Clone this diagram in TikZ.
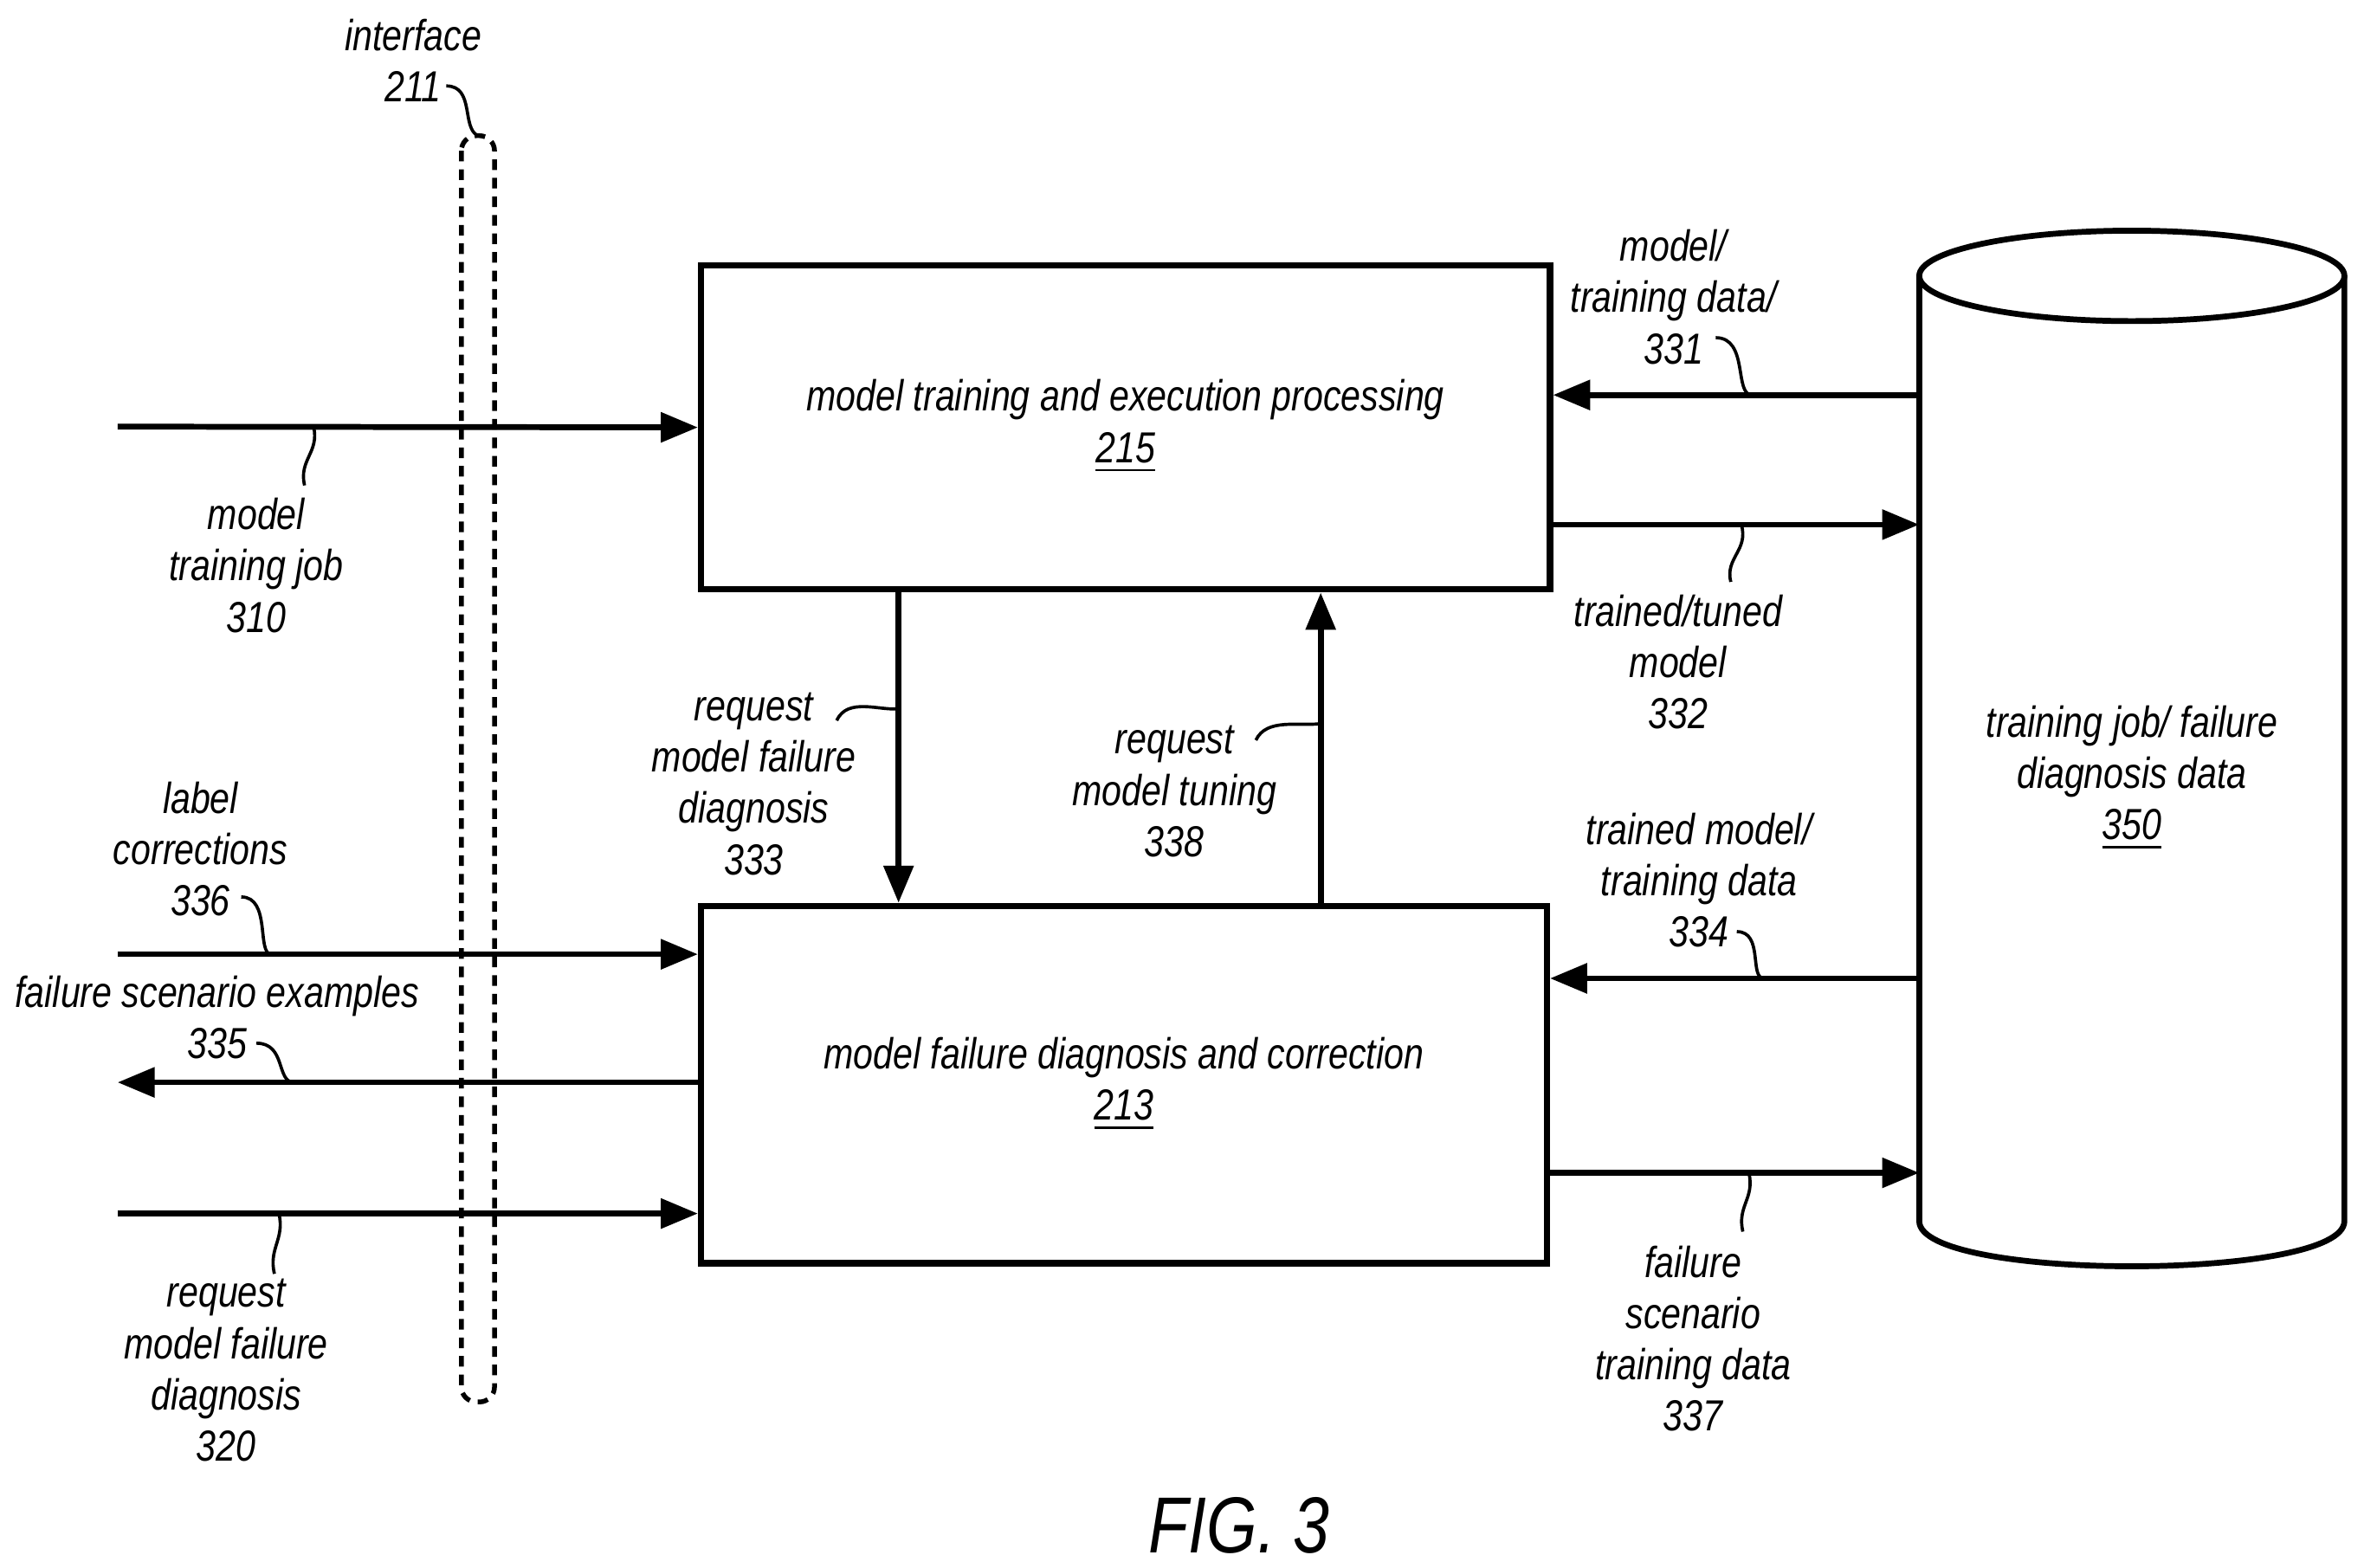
\documentclass[tikz,border=0pt]{standalone}
\usepackage{fontspec}
\setmainfont{Liberation Sans}[FakeStretch=0.82]
\usetikzlibrary{arrows.meta}
\begin{document}
\begin{tikzpicture}[x=0.1mm,y=-0.1mm,
  box/.style={draw,line width=1.2pt,inner sep=0pt},
  lbl/.style={font=\fontsize{8.2}{9.67}\selectfont\itshape,align=center,inner sep=0pt},
  arr/.style={line width=1.1pt,-{Triangle[length=7pt,width=5.5pt]}},
  lead/.style={line width=0.6pt}]
\useasboundingbox (0,0) rectangle (1568,1040);
\node[box,minimum width=563*0.1mm,minimum height=215*0.1mm] (b215) at (746.5,283.5) {};
\node[lbl] (t215) at (746.5,283) {model training and execution processing\\\underline{215}};
\node[box,minimum width=561*0.1mm,minimum height=237*0.1mm] (b213) at (745.5,719.5) {};
\node[lbl] (t213) at (745.5,719) {model failure diagnosis and correction\\\underline{213}};
% cylinder
\draw[line width=1.1pt] (1414,183) ellipse [x radius=141,y radius=30];
\draw[line width=1.1pt] (1273,183) -- (1273,810) .. controls (1273,850) and (1555,850) .. (1555,810) -- (1555,183);
\node[lbl] (t350) at (1414,516) {training job/ failure\\diagnosis data\\\underline{350}};
% interface
\draw[dash pattern=on 2pt off 1.5pt,line width=0.9pt,rounded corners=10*0.1mm] (306,90) rectangle (328,930);
\node[lbl] (t211) at (274,40) {interface\\211};
\coordinate (i1) at (296,57); \coordinate (i2) at (317,90);
\draw[lead] (i1) .. controls (315,57) and (306,85) .. (i2);
% left arrows
\coordinate (s310) at (78,283);
\draw[arr] (s310) -- (b215.west);
\node[lbl] (t310) at (170,375) {model\\training job\\310};
\draw[lead] (208,283) .. controls (212,300) and (198,305) .. (202,322);
\coordinate (s336) at (78,633);
\draw[arr] (s336) -- (b213.west |- s336);
\node[lbl] (t336) at (133,563) {label\\corrections\\336};
\draw[lead] (160,595) .. controls (180,595) and (170,633) .. (180,633);
\coordinate (e335) at (78,718);
\draw[arr] (b213.west |- e335) -- (e335);
\node[lbl] (t335) at (144,675) {failure scenario examples\\335};
\draw[lead] (170,692) .. controls (190,692) and (183,718) .. (195,718);
\coordinate (s320) at (78,805);
\draw[arr] (s320) -- (b213.west |- s320);
\node[lbl] (t320) at (150,909) {request\\model failure\\diagnosis\\320};
\draw[lead] (185,805) .. controls (189,822) and (178,828) .. (182,845);
% vertical arrows
\coordinate (v1) at (596,391); \coordinate (v2) at (876,601);
\draw[arr] (v1) -- (v1 |- b213.north);
\draw[arr] (v2) -- (v2 |- b215.south);
\node[lbl] (t333) at (500,520) {request\\model failure\\diagnosis\\333};
\draw[lead] (555,478) .. controls (562,462) and (585,472) .. (596,470);
\node[lbl] (t338) at (779,525) {request\\model tuning\\338};
\draw[lead] (833,491) .. controls (840,476) and (862,482) .. (876,480);
% right arrows
\coordinate (c331) at (1273,262);
\draw[arr] (c331) -- (b215.east |- c331);
\node[lbl] (t331) at (1110,197) {model/\\training data/\\331};
\draw[lead] (1138,224) .. controls (1160,224) and (1150,262) .. (1162,262);
\coordinate (c332) at (1273,348);
\draw[arr] (b215.east |- c332) -- (c332);
\node[lbl] (t332) at (1113,439) {trained/tuned\\model\\332};
\draw[lead] (1155,348) .. controls (1160,365) and (1144,370) .. (1148,386);
\coordinate (c334) at (1273,649);
\draw[arr] (c334) -- (b213.east |- c334);
\node[lbl] (t334) at (1127,584) {trained model/\\training data\\334};
\draw[lead] (1152,618) .. controls (1170,618) and (1160,649) .. (1170,649);
\coordinate (c337) at (1273,778);
\draw[arr] (b213.east |- c337) -- (c337);
\node[lbl] (t337) at (1123,888) {failure\\scenario\\training data\\337};
\draw[lead] (1160,778) .. controls (1164,795) and (1152,800) .. (1156,817);
\node[font=\fontsize{15}{18}\selectfont\itshape,inner sep=0pt] (fig) at (822,1012) {FIG. 3};
\end{tikzpicture}
\end{document}
